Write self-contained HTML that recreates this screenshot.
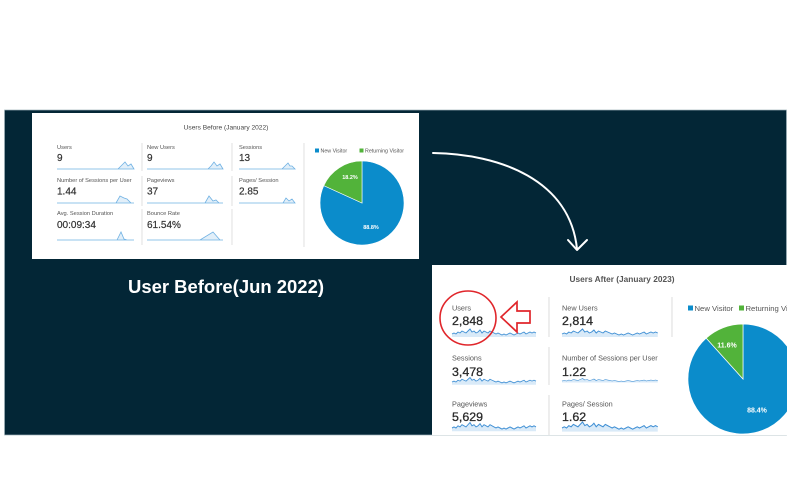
<!DOCTYPE html>
<html><head><meta charset="utf-8"><style>
html,body{margin:0;padding:0;background:#fff;width:800px;height:480px;overflow:hidden}
svg{display:block}
</style></head><body>
<svg width="800" height="480" viewBox="0 0 800 480" font-family="'Liberation Sans', sans-serif">
<defs>
<path id="spf" d="M0,0 L2,-1 L4,0 L6,-2 L8,-1 L10,-3 L12,-2 L14,-1 L16,-3 L18,-5 L20,-2 L22,-3 L24,-1 L26,-2 L28,-4 L30,-1 L32,-3 L34,-2 L36,-1 L38,-3 L40,-2 L42,-1 L44,0 L46,-1 L48,0 L50,1 L52,0 L54,1 L56,0 L58,-1 L60,0 L62,1 L64,0 L66,-1 L68,0 L70,-1 L72,-2 L74,0 L76,-1 L78,-2 L80,-1 L82,-2 L84,-1 L84,3 L0,3 Z" fill="#d9eaf8" stroke="none"/>
<path id="spl" d="M0,0 L2,-1 L4,0 L6,-2 L8,-1 L10,-3 L12,-2 L14,-1 L16,-3 L18,-5 L20,-2 L22,-3 L24,-1 L26,-2 L28,-4 L30,-1 L32,-3 L34,-2 L36,-1 L38,-3 L40,-2 L42,-1 L44,0 L46,-1 L48,0 L50,1 L52,0 L54,1 L56,0 L58,-1 L60,0 L62,1 L64,0 L66,-1 L68,0 L70,-1 L72,-2 L74,0 L76,-1 L78,-2 L80,-1 L82,-2 L84,-1" fill="none" stroke="#3f8fd4" stroke-width="0.9"/>
<clipPath id="cardclip"><rect x="432" y="265" width="355" height="170"/></clipPath>
</defs>

<!-- dark panel -->
<rect x="4.5" y="110" width="782" height="325" fill="#032636" stroke="#9fb1b9" stroke-width="0.7"/>

<!-- BEFORE CARD -->
<rect x="32" y="113" width="387" height="146" fill="#ffffff"/>
<text x="226" y="129.5" font-size="6.6" fill="#444" text-anchor="middle">Users Before (January 2022)</text>

<g stroke="#d8d8d8" stroke-width="0.8">
<line x1="142" y1="143" x2="142" y2="171"/><line x1="142" y1="176" x2="142" y2="206"/><line x1="142" y1="209" x2="142" y2="245"/>
<line x1="232" y1="143" x2="232" y2="171"/><line x1="232" y1="176" x2="232" y2="206"/><line x1="232" y1="209" x2="232" y2="245"/>
<line x1="304" y1="143" x2="304" y2="247"/>
</g>

<g font-size="5.7" fill="#555">
<text x="57" y="149">Users</text><text x="147" y="149">New Users</text><text x="239" y="149">Sessions</text>
<text x="57" y="182">Number of Sessions per User</text><text x="147" y="182">Pageviews</text><text x="239" y="182">Pages/ Session</text>
<text x="57" y="215">Avg. Session Duration</text><text x="147" y="215">Bounce Rate</text>
</g>
<g font-size="10" fill="#333" stroke="#333" stroke-width="0.2">
<text x="57" y="161">9</text><text x="147" y="161">9</text><text x="239" y="161">13</text>
<text x="57" y="194.5">1.44</text><text x="147" y="194.5">37</text><text x="239" y="194.5">2.85</text>
<text x="57" y="228">00:09:34</text><text x="147" y="228">61.54%</text>
</g>

<g fill="#e2eff9" stroke="#6fb1e3" stroke-width="0.8">
<path d="M57,169 L118,169 L121,166 L125,162 L128,166 L131,164 L134,169 Z"/>
<path d="M147,169 L208,169 L211,166 L214,162 L217,166 L220,164 L223,169 Z"/>
<path d="M239,169 L282,169 L285,166 L288,163 L290,166 L292,166 L295,169 Z"/>
<path d="M57,203 L116,203 L120,196 L124,198 L127,199 L131,203 L134,203 Z"/>
<path d="M147,203 L205,203 L209,196 L213,201 L216,200 L219,203 L223,203 Z"/>
<path d="M239,203 L283,203 L286,198 L289,201 L292,199 L295,203 Z"/>
<path d="M57,240 L117,240 L121,232 L124,239 L127,240 L134,240 Z"/>
<path d="M147,240 L200,240 L213,232 L220,240 L223,240 Z"/>
</g>

<rect x="315" y="148.5" width="4" height="4" fill="#0b8ccb"/>
<text x="320.5" y="152.3" font-size="5.3" fill="#555">New Visitor</text>
<rect x="359.5" y="148.5" width="4" height="4" fill="#52b33a"/>
<text x="365" y="152.3" font-size="5.3" fill="#555">Returning Visitor</text>

<path d="M362,203 L362,161 A42,42 0 1,1 323.8,185.6 Z" fill="#0b8ccb" stroke="#fff" stroke-width="0.6"/>
<path d="M362,203 L323.8,185.6 A42,42 0 0,1 362,161 Z" fill="#52b33a" stroke="#fff" stroke-width="0.6"/>
<text x="350" y="179" font-size="5.5" fill="#fff" text-anchor="middle" font-weight="bold">18.2%</text>
<text x="371" y="229" font-size="5.5" fill="#fff" text-anchor="middle" font-weight="bold">88.8%</text>

<text x="128" y="293" font-size="18.5" font-weight="bold" fill="#ffffff" textLength="196" lengthAdjust="spacingAndGlyphs">User Before(Jun 2022)</text>

<path d="M433,153 C500,154 570,180 577,249" fill="none" stroke="#ffffff" stroke-width="2" stroke-linecap="round"/>
<path d="M568,240 L577,250 L587,240" fill="none" stroke="#ffffff" stroke-width="2" stroke-linecap="round" stroke-linejoin="round"/>

<!-- AFTER CARD -->
<rect x="432" y="265" width="355" height="170" fill="#ffffff"/>
<text x="622" y="282" font-size="8.7" fill="#555" text-anchor="middle" font-weight="bold" textLength="105" lengthAdjust="spacingAndGlyphs">Users After (January 2023)</text>

<g stroke="#d8d8d8" stroke-width="0.9">
<line x1="549" y1="297" x2="549" y2="337"/><line x1="549" y1="347" x2="549" y2="385"/><line x1="549" y1="395" x2="549" y2="435"/>
<line x1="672" y1="297" x2="672" y2="337"/>
</g>

<g font-size="7.3" fill="#555">
<text x="452" y="310.5">Users</text><text x="562" y="310.5">New Users</text>
<text x="452" y="360.5">Sessions</text><text x="562" y="360.5">Number of Sessions per User</text>
<text x="452" y="406.5">Pageviews</text><text x="562" y="406.5">Pages/ Session</text>
</g>
<g font-size="12.4" fill="#2a2a2a" stroke="#2a2a2a" stroke-width="0.3">
<text x="452" y="325">2,848</text><text x="562" y="325">2,814</text>
<text x="452" y="376">3,478</text><text x="562" y="376">1.22</text>
<text x="452" y="421">5,629</text><text x="562" y="421">1.62</text>
</g>

<g transform="translate(452,334)"><use href="#spf"/><use href="#spl"/></g>
<g transform="translate(562,334) scale(1.14,1)"><use href="#spf"/><use href="#spl"/></g>
<g transform="translate(452,382) scale(1,0.9)"><use href="#spf"/><use href="#spl"/></g>
<g transform="translate(562,381) scale(1.14,0.5)"><use href="#spf"/><use href="#spl"/></g>
<g transform="translate(452,428) scale(1,1.1)"><use href="#spf"/><use href="#spl"/></g>
<g transform="translate(562,428) scale(1.14,1.2)"><use href="#spf"/><use href="#spl"/></g>

<ellipse cx="468" cy="318" rx="28" ry="27" fill="none" stroke="#e0262b" stroke-width="1.6"/>
<polygon points="501,317 517,302 517,311 530,311 530,323 517,323 517,332" fill="#ffffff" stroke="#e0262b" stroke-width="1.7" stroke-linejoin="miter"/>

<g clip-path="url(#cardclip)">
<rect x="688" y="305.5" width="5" height="5" fill="#0b8ccb"/>
<text x="694.5" y="311" font-size="7.7" fill="#555">New Visitor</text>
<rect x="739" y="305.5" width="5" height="5" fill="#52b33a"/>
<text x="745.5" y="311" font-size="7.7" fill="#555">Returning Visitor</text>
<path d="M743,379 L743,324 A55,55 0 1,1 706.2,338.1 Z" fill="#0b8ccb" stroke="#fff" stroke-width="0.7"/>
<path d="M743,379 L706.2,338.1 A55,55 0 0,1 743,324 Z" fill="#52b33a" stroke="#fff" stroke-width="0.7"/>
<text x="727" y="347.5" font-size="7" fill="#fff" text-anchor="middle" font-weight="bold">11.6%</text>
<text x="757" y="412.5" font-size="7" fill="#fff" text-anchor="middle" font-weight="bold">88.4%</text>
</g>
</svg>
</body></html>
